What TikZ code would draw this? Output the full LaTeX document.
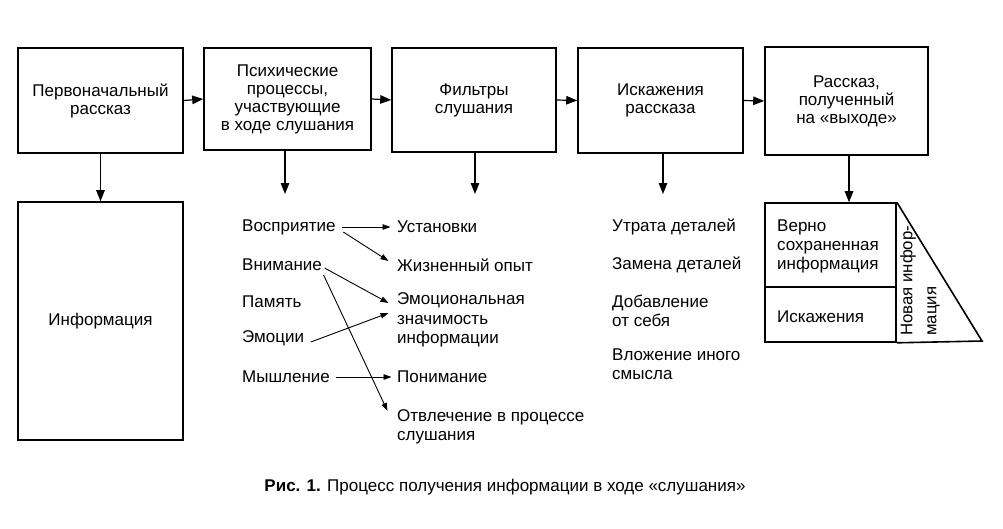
\documentclass[tikz,border=0pt]{standalone}
\usepackage{fontspec}
\setmainfont{Liberation Sans}
\usetikzlibrary{arrows.meta}
\begin{document}
\begin{tikzpicture}[x=1pt,y=-1pt,
  box/.style={draw,line width=1.6pt,inner sep=0pt,align=center,font=\fontsize{17}{18}\selectfont},
  txt/.style={inner sep=3.5pt,anchor=west,align=left,font=\fontsize{17}{19.5}\selectfont},
  big/.style={line width=1.2pt,-{Triangle[length=11pt,width=8.5pt]}},
  small/.style={line width=0.9pt,-{Triangle[length=8pt,width=5.5pt]}}]
\useasboundingbox (0,0) rectangle (1003,528);
% top row
\node[box,minimum width=165pt,minimum height=105pt] (b1) at (100.5,100.5) {Первоначальный\\рассказ};
\node[box,minimum width=167pt,minimum height=102pt] (b2) at (287.5,99) {Психические\\процессы,\\участвующие\\в ходе слушания};
\node[box,minimum width=164pt,minimum height=104pt] (b3) at (474,100) {Фильтры\\слушания};
\node[box,minimum width=165pt,minimum height=105pt] (b4) at (660.5,100.5) {Искажения\\рассказа};
\node[box,minimum width=163pt,minimum height=108pt] (b5) at (846.5,101) {Рассказ,\\полученный\\на «выходе»};
\draw[big] (b1.east) -- (b2.west);
\draw[big] (b2.east) -- (b3.west);
\draw[big] (b3.east) -- (b4.west);
\draw[big] (b4.east) -- (b5.west);
% info box
\node[box,minimum width=165pt,minimum height=238pt] (info) at (100.5,321) {Информация};
\draw[big] (b1.south) -- (info.north);
% down arrows
\coordinate (d2) at (285,194);
\coordinate (d3) at (475,194);
\coordinate (d4) at (663,194);
\draw[big] (b2.south -| d2) -- (d2);
\draw[big] (b3.south -| d3) -- (d3);
\draw[big] (b4.south -| d4) -- (d4);
% output structure
\node[draw,line width=1.6pt,inner sep=0pt,minimum width=131pt,minimum height=84pt] (v1) at (830.5,245) {};
\node[draw,line width=1.6pt,inner sep=0pt,minimum width=131pt,minimum height=55pt] (v2) at (830.5,314.5) {};
\draw[line width=1.6pt] (v1.north east) -- (982,341) -- (v2.south east);
\draw[big] (b5.south -| 849,0) -- (v1.north -| 849,0);
\node[txt,font=\fontsize{17}{19}\selectfont] (v1t) at (773.5,246) {Верно\\сохраненная\\информация};
\node[txt] (v2t) at (773.5,317) {Искажения};
\node[txt,rotate=90,inner sep=0pt,font=\fontsize{16.8}{24}\selectfont] (nov) at (920,336) {Новая инфор-\\мация};
% processes
\node[txt] (p1) at (238.5,227) {Восприятие};
\node[txt] (p2) at (238.5,265) {Внимание};
\node[txt] (p3) at (238.5,302) {Память};
\node[txt] (p4) at (238.5,338) {Эмоции};
\node[txt] (p5) at (238.5,377) {Мышление};
\node[txt] (f1) at (393.5,227) {Установки};
\node[txt] (f2) at (393.5,265) {Жизненный опыт};
\node[txt] (f3) at (393.5,320) {Эмоциональная\\значимость\\информации};
\node[txt] (f4) at (393.5,377) {Понимание};
\node[txt] (f5) at (393.5,427) {Отвлечение в процессе\\слушания};
\draw[small] ([xshift=3pt]p1.east) -- ([xshift=-3pt]f1.west);
\draw[small] ([xshift=4pt,yshift=-5pt]p1.east) -- ([xshift=-5pt,yshift=4pt]f2.west);
\draw[small] ([xshift=-1pt,yshift=-3pt]p2.east) -- ([xshift=-5pt,yshift=17pt]f3.west);
\draw[small] ([xshift=-2pt,yshift=-10pt]p2.east) -- ([xshift=-6pt,yshift=16pt]f5.west);
\draw[small] ([xshift=3pt,yshift=-4pt]p4.east) -- ([xshift=-5pt,yshift=7pt]f3.west);
\draw[small] ([xshift=2pt]p5.east) -- ([xshift=-2pt]f4.west);
% distortions
\node[txt] (u1) at (608.5,227) {Утрата деталей};
\node[txt] (u2) at (608.5,265) {Замена деталей};
\node[txt,font=\fontsize{17}{18.5}\selectfont] (u3) at (608.5,311) {Добавление\\от себя};
\node[txt,font=\fontsize{17}{18.5}\selectfont] (u4) at (608.5,364) {Вложение иного\\смысла};
% caption
\node[font=\fontsize{17}{19}\selectfont,inner sep=0pt] (cap) at (505,487) {\textbf{Рис. 1.} Процесс получения информации в ходе «слушания»};
\end{tikzpicture}
\end{document}
